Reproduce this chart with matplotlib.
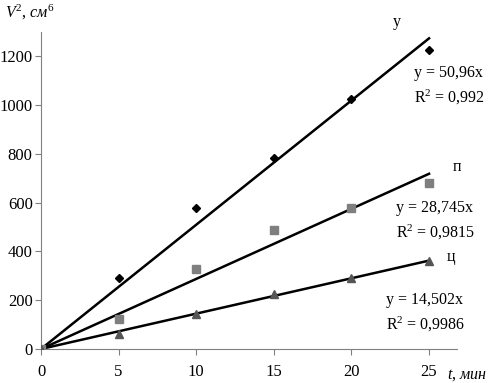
import matplotlib.pyplot as plt
import numpy as np

plt.rcParams["font.family"] = ["Liberation Serif", "DejaVu Serif"]
plt.rcParams["mathtext.fontset"] = "custom"
plt.rcParams["mathtext.rm"] = "Liberation Serif"
plt.rcParams["mathtext.it"] = "Liberation Serif:italic"

t = [0, 5, 10, 15, 20, 25]
v2_u = [0, 290, 578, 785, 1027, 1225]
v2_p = [0, 123, 327, 487, 580, 680]
v2_c = [0, 60, 143, 225, 290, 360]
slopes = [50.96, 28.745, 14.502]
r2 = ["0,992", "0,9815", "0,9986"]
slope_txt = ["50,96", "28,745", "14,502"]
names = ["у", "п", "ц"]

W, H = 490, 383
fig = plt.figure(figsize=(W / 100, H / 100), dpi=100)
ax = fig.add_axes([41 / W, 1 - 349 / H, (457 - 41) / W, (349 - 32) / H])

ax.plot(t, v2_u, "D", color="black", ms=4.5, zorder=3)
ax.plot(t, v2_p, "s", color="#7f7f7f", ms=5.5, zorder=3)
ax.plot(t, v2_c, "^", color="#555555", ms=6, zorder=3)

xs = np.array([0, 25])
for k in slopes:
    ax.plot(xs, k * xs, color="black", lw=1.8, zorder=2)

ax.set_xlim(0, 26.8)
ax.set_ylim(0, 1300)
ax.set_xticks(t)
ax.set_yticks(range(0, 1201, 200))
ax.tick_params(labelsize=12, color="#808080", length=4)
ax.tick_params(axis="y", pad=2)
ax.tick_params(axis="x", pad=7)
for s in ["top", "right"]:
    ax.spines[s].set_visible(False)
for s in ["left", "bottom"]:
    ax.spines[s].set_color("#808080")

def px(x, y, s, **kw):
    fig.text(x / W, 1 - y / H, s, fontsize=11.5, **kw)

px(5, 12, "$V^2$, $см^6$", va="center")
px(447, 375, "$t$, $мин$", va="center")

label_pos = [(393, 22), (453, 167), (447, 257)]
eq_pos = [(414, 73), (396, 208), (386, 300)]
for i in range(3):
    px(label_pos[i][0], label_pos[i][1], names[i], va="center")
    px(eq_pos[i][0], eq_pos[i][1], "y = " + slope_txt[i] + "x", va="center")
    px(eq_pos[i][0], eq_pos[i][1] + 24, "R$^2$ = " + r2[i], va="center")

fig.savefig("out.png", dpi=100)
